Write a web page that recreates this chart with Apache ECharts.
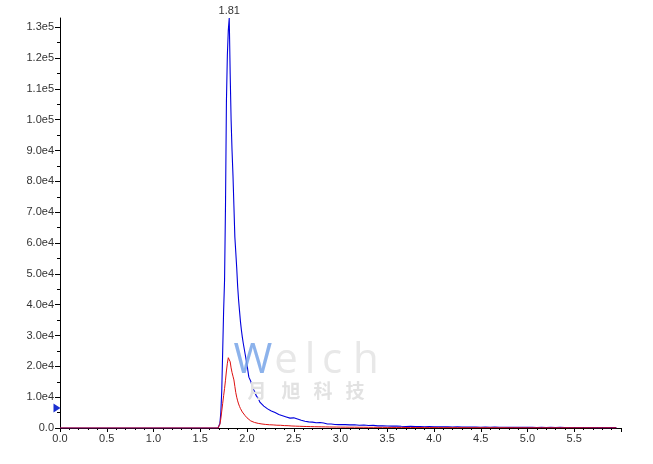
<!DOCTYPE html>
<html><head><meta charset="utf-8">
<script src="https://cdn.jsdelivr.net/npm/echarts@6/dist/echarts.min.js"></script>
<style>html,body{margin:0;padding:0;background:#fff}#c{width:653px;height:464px}</style>
</head><body><div id="c"></div>
<script>
var timeA = [0, 0.5, 1.0, 1.5, 1.69];
var timeB = [1.70,1.71,1.72,1.73,1.74,1.75,1.76,1.77,1.78,1.79,1.80,1.81,1.82,1.83,1.84,1.85,1.86,1.87,1.88,1.89,1.90,1.91,1.92,1.93,1.94,1.95];
var timeC = [1.96,1.98,2.00,2.02,2.04,2.06,2.08,2.10,2.12,2.14,2.16,2.18,2.20,2.22,2.24,2.26,2.28,2.30,2.32,2.34,2.36,2.38,2.40,2.42,2.44,2.46,2.48,2.50,2.52,2.54,2.56,2.58,2.60,2.62,2.64,2.66,2.68,2.70,2.72,2.74,2.76,2.78,2.80,2.82,2.84,2.86,2.88,2.90,2.92,2.94,2.96,2.98,3.00];
var timeD = [3.05,3.10,3.15,3.20,3.25,3.30,3.35,3.40,3.45,3.50,3.55,3.60,3.65,3.70,3.75,3.80,3.85,3.90,3.95,4.00,4.05,4.10,4.15,4.20,4.25,4.30,4.35,4.40,4.45,4.50,4.55,4.60,4.65,4.70,4.75,4.80,4.85,4.90,4.95,5.00,5.05,5.10,5.15,5.20,5.25,5.30,5.35,5.40,5.45,5.50,5.55,5.60,5.65,5.70,5.75,5.80,5.85,5.90,5.95];

var blueA = [0,0,0,0,0];
var blueB = [0,1500,5000,12000,25000,38000,48000,72000,106000,121000,129000,133000,115000,100000,90000,82000,72000,62000,57000,52000,46000,41500,38000,34500,31800,29500];
var blueC = [27500,24000,20500,16500,15200,13000,11900,10400,9600,8300,8000,7100,7000,6200,6200,5500,5500,5000,5000,4400,4700,4000,4000,3600,3800,3200,3300,3300,2800,2900,2900,2500,2600,2200,2400,2000,2200,1900,2000,1700,1800,1800,1500,1600,1600,1300,1500,1300,1400,1150,1300,1100,1250];
var blueD = [1100,1000,1050,900,950,800,850,700,750,650,600,650,550,500,550,450,500,400,450,380,420,350,380,320,350,300,330,280,300,260,290,240,270,230,250,210,240,200,230,190,220,180,210,170,200,160,190,150,180,150,170,140,160,130,150,120,140,110,130];

var redA = [0,0,0,0,0];
var redB = [0,1200,3000,5500,8000,10500,12800,15500,18500,21000,22800,23000,21500,19500,18000,16800,15600,13500,11500,10000,8800,7800,7000,6300,5800,5200];
var redC = [4800,4000,3300,2800,2300,2000,1800,1600,1500,1350,1300,1200,1150,1100,1050,1000,1000,950,900,850,880,800,780,720,750,680,650,680,600,620,560,580,520,540,480,500,450,470,420,440,400,420,380,400,350,370,330,350,310,330,300,310,280];
var redD = [270,250,260,230,240,210,220,200,210,180,190,170,180,160,170,150,160,140,150,130,140,120,130,115,125,110,120,105,115,100,110,95,105,90,100,90,95,85,90,80,88,78,85,75,82,72,80,70,78,68,75,66,72,64,70,62,68,60,65];

var xTickLabels = [0,0.5,1.0,1.5,2.0,2.5,3.0,3.5,4.0,4.5,5.0,5.5];
var yTickLabels = [0,10000,20000,30000,40000,50000,60000,70000,80000,90000,100000,110000,120000,130000];
var peakTime = 1.81, peakValue = 133000;
var markerValue = 6500;

var times = timeA.concat(timeB, timeC, timeD);
var blue = blueA.concat(blueB, blueC, blueD);
var red = redA.concat(redB, redC, redD);
function pairs(ys){ return times.map(function(t,i){ return [t, ys[i]]; }); }

function fmtY(v){
  if (v === 0) return '0.0';
  var e = Math.floor(Math.log10(v) + 1e-9);
  return (v / Math.pow(10, e)).toFixed(1) + 'e' + e;
}
var FONT = "'Liberation Sans', Arial, sans-serif";
var WM = "42px 'Open Sans', 'DejaVu Sans', sans-serif";
var CJK = "bold 19px 'Noto Sans CJK SC', sans-serif";
function wm(ch, x, y, font, fill){
  return {type: 'text', x: x, y: y, z: 100, silent: true,
    style: {text: ch, font: font, fill: fill, align: 'center', verticalAlign: 'middle',
            shadowColor: 'rgba(0,0,0,0.22)', shadowBlur: 3, shadowOffsetX: 1, shadowOffsetY: 1}};
}
var chart = echarts.init(document.getElementById('c'), null, {renderer:'canvas'});
chart.setOption({
  animation: false,
  backgroundColor: '#fff',
  grid: {left: 60, right: 32, top: 18, bottom: 36, containLabel: false},
  xAxis: {
    type: 'value', min: 0, max: 6.0, interval: 0.5,
    axisLine: {show: true, lineStyle: {color: '#000', width: 1}},
    axisTick: {show: true, length: 4, lineStyle: {color: '#000'}},
    minorTick: {show: true, splitNumber: 5, length: 2, lineStyle: {color: '#000'}},
    splitLine: {show: false},
    axisLabel: {color: '#333', fontFamily: FONT, fontSize: 11, margin: 5,
      customValues: xTickLabels, formatter: function(v){ return Number(v).toFixed(1); }}
  },
  yAxis: {
    type: 'value', min: 0, max: 133000, interval: 10000,
    axisLine: {show: true, lineStyle: {color: '#000', width: 1}},
    axisTick: {show: true, length: 5, lineStyle: {color: '#000'}, customValues: yTickLabels},
    minorTick: {show: true, splitNumber: 2, length: 3, lineStyle: {color: '#000'}},
    splitLine: {show: false},
    axisLabel: {color: '#333', fontFamily: FONT, fontSize: 11, margin: 6,
      customValues: yTickLabels, formatter: fmtY}
  },
  series: [
    {type: 'line', data: pairs(blue), showSymbol: false, lineStyle: {color: '#0000dd', width: 1.1}, z: 2,
     markPoint: {
       silent: true,
       data: [
         {coord: [peakTime, peakValue], symbol: 'circle', symbolSize: 0,
          label: {show: true, position: 'top', distance: 2, formatter: '1.81', color: '#333', fontFamily: FONT, fontSize: 11}},
         {coord: [0, markerValue], symbol: 'triangle', symbolSize: [9, 7], symbolRotate: -90, symbolOffset: [-3, 0],
          itemStyle: {color: '#1a2fd0'}, label: {show: false}}
       ]
     }},
    {type: 'line', data: pairs(red), showSymbol: false, lineStyle: {color: '#dd1111', width: 1}, z: 3}
  ],
  graphic: [
    wm('W', 253, 361, WM, 'rgba(120,165,232,0.85)'),
    wm('e', 286, 361, WM, '#e8e8e8'),
    wm('l', 310, 361, WM, '#e8e8e8'),
    wm('c', 332, 361, WM, '#e8e8e8'),
    wm('h', 366, 361, WM, '#e8e8e8'),
    wm('月', 257, 391, CJK, '#e2e2e2'),
    wm('旭', 291, 391, CJK, '#e2e2e2'),
    wm('科', 323, 391, CJK, '#e2e2e2'),
    wm('技', 355, 391, CJK, '#e2e2e2')
  ]
});
</script>
</body></html>
